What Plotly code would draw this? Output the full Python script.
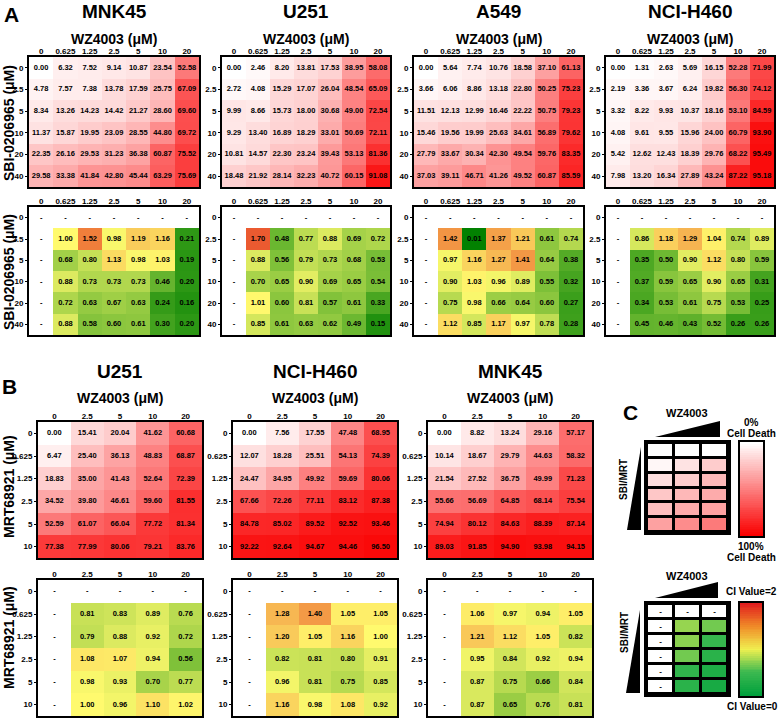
import plotly.graph_objects as go

W, H = 778, 718
FONT = "Liberation Sans, Arial, sans-serif"

# ---------------- data ----------------
colsA = ["0", "0.625", "1.25", "2.5", "5", "10", "20"]
rowsA = ["0", "2.5", "5", "10", "20", "40"]
colsB = ["0", "2.5", "5", "10", "20"]
rowsB = ["0", "0.625", "1.25", "2.5", "5", "10"]

deathA_MNK45 = [
    [0.00, 6.32, 7.52, 9.14, 10.87, 23.54, 52.58],
    [4.78, 7.57, 7.38, 13.78, 17.59, 25.75, 67.09],
    [8.34, 13.26, 14.23, 14.42, 21.27, 28.60, 69.60],
    [11.37, 15.87, 19.95, 23.09, 28.55, 44.80, 69.72],
    [22.35, 26.16, 29.53, 31.23, 36.38, 60.87, 75.52],
    [29.58, 33.38, 41.84, 42.80, 45.44, 63.29, 75.69],
]
deathA_U251 = [
    [0.00, 2.46, 8.20, 13.81, 17.53, 38.95, 58.08],
    [2.72, 4.08, 15.29, 17.07, 26.04, 48.54, 65.09],
    [9.99, 8.66, 15.73, 18.00, 30.68, 49.00, 72.54],
    [9.29, 13.40, 16.89, 18.29, 33.01, 50.69, 72.11],
    [10.81, 14.57, 22.30, 23.24, 39.43, 53.13, 81.36],
    [18.48, 21.92, 28.14, 32.23, 40.72, 60.15, 91.08],
]
deathA_A549 = [
    [0.00, 5.64, 7.74, 10.76, 18.58, 37.10, 61.13],
    [3.66, 6.06, 8.86, 13.18, 22.80, 50.25, 75.23],
    [11.51, 12.13, 12.99, 16.46, 22.22, 50.75, 79.23],
    [15.46, 19.56, 19.99, 25.63, 34.61, 56.89, 79.62],
    [27.79, 33.67, 30.34, 42.30, 49.54, 59.76, 83.35],
    [37.03, 39.11, 46.71, 41.26, 49.52, 60.87, 85.59],
]
deathA_H460 = [
    [0.00, 1.31, 2.63, 5.69, 16.15, 52.28, 71.99],
    [2.19, 3.36, 3.67, 6.24, 19.82, 56.30, 74.12],
    [3.32, 8.22, 9.93, 10.37, 18.16, 53.10, 84.59],
    [4.08, 9.61, 9.55, 15.96, 24.00, 60.79, 93.90],
    [5.42, 12.62, 12.43, 18.39, 29.76, 68.22, 95.49],
    [7.98, 13.20, 16.34, 27.89, 43.24, 87.22, 95.18],
]
# CI values: rows 2.5..40, cols 0.625..20 (row 0 / col 0 are "-")
ciA_MNK45 = [
    [1.00, 1.52, 0.98, 1.19, 1.16, 0.21],
    [0.68, 0.80, 1.13, 0.98, 1.03, 0.19],
    [0.88, 0.73, 0.73, 0.73, 0.46, 0.20],
    [0.72, 0.63, 0.67, 0.63, 0.24, 0.16],
    [0.88, 0.58, 0.60, 0.61, 0.30, 0.20],
]
ciA_U251 = [
    [1.70, 0.48, 0.77, 0.88, 0.69, 0.72],
    [0.88, 0.56, 0.79, 0.73, 0.68, 0.53],
    [0.70, 0.65, 0.90, 0.69, 0.65, 0.54],
    [1.01, 0.60, 0.81, 0.57, 0.61, 0.33],
    [0.85, 0.61, 0.63, 0.62, 0.49, 0.15],
]
ciA_A549 = [
    [1.42, 0.01, 1.37, 1.21, 0.61, 0.74],
    [0.97, 1.16, 1.27, 1.41, 0.64, 0.38],
    [0.90, 1.03, 0.96, 0.89, 0.55, 0.32],
    [0.75, 0.98, 0.66, 0.64, 0.60, 0.27],
    [1.12, 0.85, 1.17, 0.97, 0.78, 0.28],
]
ciA_H460 = [
    [0.86, 1.18, 1.29, 1.04, 0.74, 0.89],
    [0.35, 0.50, 0.90, 1.12, 0.80, 0.59],
    [0.37, 0.59, 0.65, 0.90, 0.65, 0.31],
    [0.34, 0.53, 0.61, 0.75, 0.53, 0.25],
    [0.45, 0.46, 0.43, 0.52, 0.26, 0.26],
]

deathB_U251 = [
    [0.00, 15.41, 20.04, 41.62, 60.68],
    [6.47, 25.40, 36.13, 48.83, 68.87],
    [18.83, 35.00, 41.43, 52.64, 72.39],
    [34.52, 39.80, 46.61, 59.60, 81.55],
    [52.59, 61.07, 66.04, 77.72, 81.34],
    [77.38, 77.99, 80.06, 79.21, 83.76],
]
deathB_H460 = [
    [0.00, 7.56, 17.55, 47.48, 68.95],
    [12.07, 18.28, 25.51, 54.13, 74.39],
    [24.47, 34.95, 49.92, 59.69, 80.06],
    [67.66, 72.26, 77.11, 83.12, 87.38],
    [84.78, 85.02, 89.52, 92.52, 93.46],
    [92.22, 92.64, 94.67, 94.46, 96.50],
]
deathB_MNK45 = [
    [0.00, 8.82, 13.24, 29.16, 57.17],
    [10.14, 18.67, 29.79, 44.63, 58.32],
    [21.54, 27.52, 36.75, 49.99, 71.23],
    [55.66, 56.69, 64.85, 68.14, 75.54],
    [74.94, 80.12, 84.63, 88.39, 87.14],
    [89.03, 91.85, 94.90, 93.98, 94.15],
]
ciB_U251 = [
    [0.81, 0.83, 0.89, 0.76],
    [0.79, 0.88, 0.92, 0.72],
    [1.08, 1.07, 0.94, 0.56],
    [0.98, 0.93, 0.70, 0.77],
    [1.00, 0.96, 1.10, 1.02],
]
ciB_H460 = [
    [1.28, 1.40, 1.05, 1.05],
    [1.20, 1.05, 1.16, 1.00],
    [0.82, 0.81, 0.80, 0.91],
    [0.96, 0.81, 0.75, 0.85],
    [1.16, 0.98, 1.08, 0.92],
]
ciB_MNK45 = [
    [1.06, 0.97, 0.94, 1.05],
    [1.21, 1.12, 1.05, 0.82],
    [0.95, 0.84, 0.92, 0.94],
    [0.87, 0.75, 0.66, 0.84],
    [0.87, 0.65, 0.76, 0.81],
]

# schematic legend grids (panel C)
legend_cols = ["a", "b", "c"]
legend_rows = ["1", "2", "3", "4", "5", "6"]
legend_death = [
    [0, 0, 0],
    [3, 11, 20],
    [13, 20, 28],
    [22, 28, 33],
    [25, 33, 37],
    [37, 45, 52],
]
legend_ci = [  # None = "-"
    [None, None, None],
    [None, 0.75, 0.65],
    [None, 0.72, 0.45],
    [None, 0.65, 0.35],
    [None, 0.40, 0.25],
    [None, 0.35, 0.20],
]
death_bar = [i * 2 for i in range(51)]          # 0 .. 100 top to bottom
ci_bar = [2 - i * 0.04 for i in range(51)]       # 2 .. 0 top to bottom

# ---------------- styling ----------------
DEATH_SCALE = [[0, "rgb(255,255,255)"], [1, "rgb(250,0,0)"]]
CI_SCALE = [[0, "rgb(0,128,0)"], [0.25, "rgb(110,185,50)"], [0.5, "rgb(255,250,110)"],
            [0.75, "rgb(240,130,60)"], [1, "rgb(228,30,30)"]]
LEG_CI_SCALE = [[0, "rgb(0,160,60)"], [0.25, "rgb(60,185,80)"], [0.5, "rgb(240,240,80)"],
                [0.75, "rgb(240,140,40)"], [1, "rgb(225,30,30)"]]


def px(x):
    return x / W


def py(y):
    return 1 - y / H


fig = go.Figure()
_n = [0]


def add_axes(x0, x1, y0, y1, xcats=None, ycats=None, show_x=True, show_y=True, lw=2,
             tick_size=8, cat=True):
    _n[0] += 1
    n = _n[0]
    xa = "xaxis" if n == 1 else f"xaxis{n}"
    ya = "yaxis" if n == 1 else f"yaxis{n}"
    xr = "x" if n == 1 else f"x{n}"
    yr = "y" if n == 1 else f"y{n}"
    tf = dict(family=FONT, size=tick_size, color="black", weight="bold")
    xd = dict(domain=[px(x0), px(x1)], anchor=yr, side="top", showline=True, mirror=True,
              linecolor="black", linewidth=lw, showgrid=False, zeroline=False, ticks="",
              ticklabelstandoff=-2,
              showticklabels=show_x, tickfont=tf, fixedrange=True)
    yd = dict(domain=[py(y1), py(y0)], anchor=xr, showline=True, mirror=True,
              linecolor="black", linewidth=lw, showgrid=False, zeroline=False,
              ticks="outside" if show_y else "", ticklen=2, tickwidth=1, tickcolor="black",
              showticklabels=show_y, tickfont=tf, autorange="reversed", fixedrange=True)
    if cat:
        xd.update(type="category", categoryorder="array", categoryarray=xcats)
        yd.update(type="category", categoryorder="array", categoryarray=ycats)
    else:
        xd.update(showticklabels=False)
        yd.update(showticklabels=False, ticks="")
    fig.layout[xa] = xd
    fig.layout[ya] = yd
    return xr, yr


def cell_text(xr, yr, cols, rows, texts, size=7.5):
    xs, ys, ts = [], [], []
    for i, r in enumerate(rows):
        for j, c in enumerate(cols):
            xs.append(c)
            ys.append(r)
            ts.append(texts[i][j])
    fig.add_trace(go.Scatter(x=xs, y=ys, text=ts, mode="text", xaxis=xr, yaxis=yr,
                             textfont=dict(family=FONT, size=size, color="black", weight="bold"),
                             hoverinfo="skip", showlegend=False))


def death_map(x0, x1, y0, y1, cols, rows, z):
    xr, yr = add_axes(x0, x1, y0, y1, cols, rows)
    fig.add_trace(go.Heatmap(x=cols, y=rows, z=z, colorscale=DEATH_SCALE, zmin=0, zmax=100,
                             showscale=False, xaxis=xr, yaxis=yr, hoverinfo="skip"))
    cell_text(xr, yr, cols, rows, [[f"{v:.2f}" for v in row] for row in z])


def ci_map(x0, x1, y0, y1, cols, rows, ci):
    xr, yr = add_axes(x0, x1, y0, y1, cols, rows)
    z = [[None] * len(cols)] + [[None] + list(r) for r in ci]
    fig.add_trace(go.Heatmap(x=cols, y=rows, z=z, colorscale=CI_SCALE, zmin=0, zmax=2,
                             showscale=False, xaxis=xr, yaxis=yr, hoverinfo="skip"))
    txt = [["-" if v is None else f"{v:.2f}" for v in row] for row in z]
    cell_text(xr, yr, cols, rows, txt)


# ---------------- panel A ----------------
A_x = [(29, 199), (222, 390), (414, 583), (606, 774)]
A_death = [deathA_MNK45, deathA_U251, deathA_A549, deathA_H460]
A_ci = [ciA_MNK45, ciA_U251, ciA_A549, ciA_H460]
A_names = ["MNK45", "U251", "A549", "NCI-H460"]
for (x0, x1), d, c in zip(A_x, A_death, A_ci):
    death_map(x0, x1, 57, 187, colsA, rowsA, d)
    ci_map(x0, x1, 207, 335, colsA, rowsA, c)

# ---------------- panel B ----------------
B_x = [(38, 202), (233, 397), (428, 592)]
B_death = [deathB_U251, deathB_H460, deathB_MNK45]
B_ci = [ciB_U251, ciB_H460, ciB_MNK45]
B_names = ["U251", "NCI-H460", "MNK45"]
for (x0, x1), d, c in zip(B_x, B_death, B_ci):
    death_map(x0, x1, 422, 558, colsB, rowsB, d)
    ci_map(x0, x1, 580, 716, colsB, rowsB, c)

# ---------------- panel C ----------------
# death legend grid
xr, yr = add_axes(647, 728, 443, 532, legend_cols, legend_rows, False, False, lw=3)
fig.add_trace(go.Heatmap(x=legend_cols, y=legend_rows, z=[[1] * 3 for _ in legend_rows],
                         colorscale=[[0, "black"], [1, "black"]], showscale=False,
                         xaxis=xr, yaxis=yr, hoverinfo="skip"))
fig.add_trace(go.Heatmap(x=legend_cols, y=legend_rows, z=legend_death, colorscale=DEATH_SCALE,
                         zmin=0, zmax=100, showscale=False, xgap=3, ygap=3,
                         xaxis=xr, yaxis=yr, hoverinfo="skip"))
# death colour bar
xr, yr = add_axes(740, 763, 442, 536, cat=False)
fig.add_trace(go.Heatmap(z=[[v] for v in death_bar], colorscale=DEATH_SCALE, zmin=0, zmax=100,
                         showscale=False, xaxis=xr, yaxis=yr, hoverinfo="skip"))

# CI legend grid
xr, yr = add_axes(647, 728, 604, 694, legend_cols, legend_rows, False, False, lw=3)
fig.add_trace(go.Heatmap(x=legend_cols, y=legend_rows, z=[[1] * 3 for _ in legend_rows],
                         colorscale=[[0, "black"], [1, "black"]], showscale=False,
                         xaxis=xr, yaxis=yr, hoverinfo="skip"))
fig.add_trace(go.Heatmap(x=legend_cols, y=legend_rows,
                         z=[[1 if v is None else None for v in r] for r in legend_ci],
                         colorscale=[[0, "white"], [1, "white"]], showscale=False,
                         xgap=3, ygap=3, xaxis=xr, yaxis=yr, hoverinfo="skip"))
fig.add_trace(go.Heatmap(x=legend_cols, y=legend_rows, z=legend_ci, colorscale=LEG_CI_SCALE,
                         zmin=0, zmax=2, showscale=False, xgap=3, ygap=3,
                         xaxis=xr, yaxis=yr, hoverinfo="skip"))
cell_text(xr, yr, legend_cols, legend_rows,
          [["-" if v is None else "" for v in r] for r in legend_ci], size=8)
# CI colour bar
xr, yr = add_axes(740, 762, 603, 696, cat=False)
fig.add_trace(go.Heatmap(z=[[v] for v in ci_bar], colorscale=LEG_CI_SCALE, zmin=0, zmax=2,
                         showscale=False, xaxis=xr, yaxis=yr, hoverinfo="skip"))

# wedges (decorative triangles of panel C)
shapes = []
wedges = [
    [(655, 437), (720, 437), (720, 421)],
    [(641, 447), (641, 530), (627, 530)],
    [(655, 598), (718, 598), (718, 582)],
    [(640, 610), (640, 693), (626, 693)],
]
for w in wedges:
    path = "M " + " L ".join(f"{px(a):.5f},{py(b):.5f}" for a, b in w) + " Z"
    shapes.append(dict(type="path", xref="paper", yref="paper", path=path,
                       fillcolor="black", line=dict(width=0)))

# ---------------- annotations ----------------
ann = []


def txt(x, y, s, size, angle=0):
    ann.append(dict(x=px(x), y=py(y), xref="paper", yref="paper", text=s, showarrow=False,
                    xanchor="center", yanchor="middle", textangle=angle,
                    font=dict(family=FONT, size=size, color="black")))


txt(11, 14, "<b>A</b>", 21)
for (x0, x1), name in zip(A_x, A_names):
    txt((x0 + x1) / 2, 12, f"<b>{name}</b>", 19)
    txt((x0 + x1) / 2, 39, "<b>WZ4003 (μM)</b>", 14)
txt(9, 123, "<b>SBI-0206965 (μM)</b>", 14, -90)
txt(9, 272, "<b>SBI-0206965 (μM)</b>", 14, -90)

txt(9, 386, "<b>B</b>", 21)
for (x0, x1), name in zip(B_x, B_names):
    txt((x0 + x1) / 2, 372, f"<b>{name}</b>", 19)
    txt((x0 + x1) / 2, 398, "<b>WZ4003 (μM)</b>", 14)
txt(9, 487, "<b>MRT68921 (μM)</b>", 14, -90)
txt(9, 638, "<b>MRT68921 (μM)</b>", 14, -90)

txt(630, 412, "<b>C</b>", 21)
txt(687, 413, "<b>WZ4003</b>", 11)
txt(623, 480, "<b>SBI/MRT</b>", 10, -90)
txt(751, 422, "<b>0%</b>", 10)
txt(751, 433, "<b>Cell Death</b>", 10)
txt(751, 546, "<b>100%</b>", 10)
txt(751, 557, "<b>Cell Death</b>", 10)
txt(687, 576, "<b>WZ4003</b>", 11)
txt(624, 633, "<b>SBI/MRT</b>", 10, -90)
txt(751, 591, "<b>CI Value=2</b>", 10)
txt(752, 706, "<b>CI Value=0</b>", 10)

fig.update_layout(width=W, height=H, margin=dict(l=0, r=0, t=0, b=0),
                  paper_bgcolor="white", plot_bgcolor="white", showlegend=False,
                  annotations=ann, shapes=shapes)

fig.write_html("out.html", config={"displayModeBar": False},
               post_script="document.body.style.margin='0';"
                           "document.body.style.overflow='hidden';")
